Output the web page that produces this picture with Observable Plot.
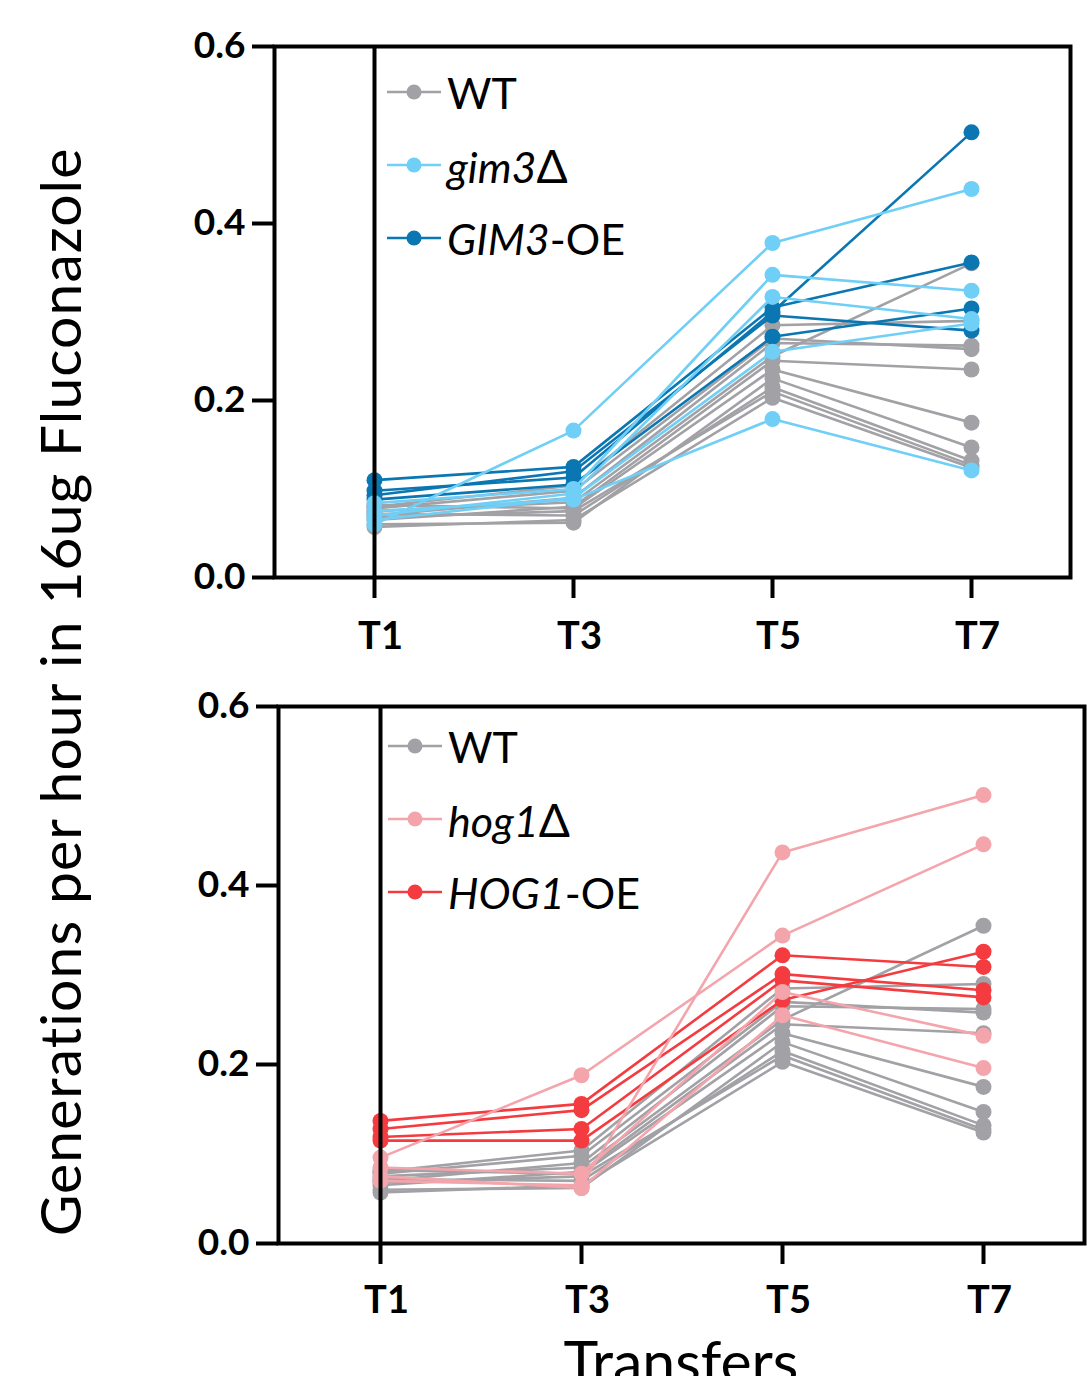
<!DOCTYPE html>
<html>
<head>
<meta charset="utf-8">
<script src="https://cdn.jsdelivr.net/npm/d3@7"></script>
<script src="https://cdn.jsdelivr.net/npm/@observablehq/plot@0.6"></script>
<style>
  html, body { margin: 0; padding: 0; background: #fff; overflow: hidden; }
  #page { position: relative; width: 1087px; height: 1376px; overflow: hidden; font-family: Lato, "Open Sans", sans-serif; }
  .panel { position: absolute; left: 0; }
  .legend { position: absolute; font-family: Lato, sans-serif; font-size: 43px; color: #000; }
  .legend .row { position: absolute; left: 0; height: 50px; display: flex; align-items: center; white-space: nowrap; }
  .legend svg { margin-right: 6px; overflow: visible; }
  .legend .delta { font-size: 46px; }
  #ylabel { position: absolute; left: 59px; top: 692px; transform: translate(-50%, -50%) rotate(-90deg);
            font-size: 57px; letter-spacing: 1.1px; line-height: 1.2; white-space: nowrap; font-family: Lato, sans-serif; }
  #xlabel { position: absolute; left: 681px; top: 1326px; transform: translateX(-50%);
            font-size: 59px; line-height: 1.2; white-space: nowrap; font-family: Lato, sans-serif; }
</style>
</head>
<body>
<div id="page">
  <div id="top" class="panel" style="top:0px"></div>
  <div id="bottom" class="panel" style="top:660px"></div>
  <div id="ylabel">Generations per hour in 16ug Fluconazole</div>
  <div id="xlabel">Transfers</div>
</div>
<script>
// ---- data ----
const transfers = ["T1", "T3", "T5", "T7"];
const yTicks = [0, 0.2, 0.4, 0.6];

// each row: values at T1, T3, T5, T7
const wt = [
  [0.075, 0.085, 0.250, 0.355],
  [0.080, 0.104, 0.285, 0.290],
  [0.070, 0.090, 0.265, 0.262],
  [0.078, 0.098, 0.270, 0.258],
  [0.065, 0.080, 0.245, 0.235],
  [0.082, 0.078, 0.235, 0.175],
  [0.060, 0.062, 0.225, 0.147],
  [0.072, 0.070, 0.215, 0.132],
  [0.068, 0.075, 0.210, 0.127],
  [0.057, 0.065, 0.203, 0.124]
];
const gim3Del = [
  [0.060, 0.166, 0.378, 0.439],
  [0.084, 0.100, 0.342, 0.324],
  [0.070, 0.095, 0.317, 0.292],
  [0.065, 0.090, 0.255, 0.287],
  [0.075, 0.088, 0.179, 0.121]
];
const gim3OE = [
  [0.098, 0.113, 0.300, 0.503],
  [0.110, 0.125, 0.305, 0.356],
  [0.093, 0.120, 0.296, 0.279],
  [0.088, 0.105, 0.272, 0.304]
];
const hog1Del = [
  [0.096, 0.188, 0.344, 0.446],
  [0.070, 0.065, 0.437, 0.501],
  [0.085, 0.078, 0.281, 0.232],
  [0.075, 0.062, 0.255, 0.196]
];
const hog1OE = [
  [0.137, 0.156, 0.322, 0.309],
  [0.128, 0.149, 0.301, 0.283],
  [0.119, 0.128, 0.294, 0.275],
  [0.115, 0.115, 0.272, 0.326]
];

const colors = {
  wt: "#a1a1a6",
  gim3Del: "#6fcff6",
  gim3OE: "#0a76b2",
  hog1Del: "#f4a5ac",
  hog1OE: "#f43c40"
};

function toRows(series, group) {
  return series.flatMap((vals, i) =>
    vals.map((v, j) => ({ t: transfers[j], v, id: group + i, group })));
}

function groupMarks(rows, color) {
  return [
    Plot.line(rows, { x: "t", y: "v", z: "id", stroke: color, strokeWidth: 2.6 }),
    Plot.dot(rows, { x: "t", y: "v", fill: color, r: 8 })
  ];
}

function panel(groups, opts) {
  return Plot.plot({
    width: 1087,
    height: opts.height,
    marginLeft: opts.marginLeft,
    marginRight: opts.marginRight,
    marginTop: opts.marginTop,
    marginBottom: opts.marginBottom,
    style: { fontFamily: "Lato, sans-serif", color: "#000", background: "#fff" },
    x: { type: "point", domain: transfers, padding: 0.5 },
    y: { domain: [0, 0.6] },
    marks: [
      ...groups.flatMap(g => groupMarks(toRows(g.data, g.name), g.color)),
      Plot.ruleX(["T1"], { stroke: "#000", strokeWidth: 4 }),
      Plot.frame({ stroke: "#000", strokeWidth: 4 }),
      Plot.axisY({ ticks: yTicks, tickFormat: d3.format(".1f"), tickSize: 22, tickPadding: 7,
                   fontSize: 37, fontWeight: "bold", strokeWidth: 4, label: null }),
      // tick marks
      Plot.axisX({ tickSize: 21, tickFormat: () => "", strokeWidth: 4, label: null }),
      // tick labels (slightly right of the ticks, as in the original)
      Plot.axisX({ tickSize: 0, tickPadding: 21 + opts.xPad, fontSize: 38, fontWeight: "bold",
                   label: null, dx: 6 })
    ]
  });
}

const topPlot = panel(
  [ { name: "wt", data: wt, color: colors.wt },
    { name: "gim3OE", data: gim3OE, color: colors.gim3OE },
    { name: "gim3Del", data: gim3Del, color: colors.gim3Del } ],
  { height: 680, marginLeft: 274, marginRight: 17, marginTop: 46, marginBottom: 103, xPad: 24 });
document.getElementById("top").appendChild(topPlot);

const bottomPlot = panel(
  [ { name: "wt", data: wt, color: colors.wt },
    { name: "hog1OE", data: hog1OE, color: colors.hog1OE },
    { name: "hog1Del", data: hog1Del, color: colors.hog1Del } ],
  { height: 716, marginLeft: 278, marginRight: 3, marginTop: 46, marginBottom: 133, xPad: 22 });
document.getElementById("bottom").appendChild(bottomPlot);

// ---- legends (HTML overlay inside the plot frames) ----
function legend(items, left, top, gap) {
  const div = document.createElement("div");
  div.className = "legend";
  div.style.left = left + "px";
  div.style.top = top + "px";
  items.forEach((it, i) => {
    const row = document.createElement("div");
    row.className = "row";
    row.style.top = (i * gap) + "px";
    row.innerHTML =
      `<svg width="54" height="20"><line x1="0" x2="54" y1="10" y2="10" stroke="${it.color}" stroke-width="2.6"/>` +
      `<circle cx="27" cy="10" r="7.5" fill="${it.color}"/></svg><span>${it.label}</span>`;
    div.appendChild(row);
  });
  document.getElementById("page").appendChild(div);
}
legend([
  { label: "WT", color: colors.wt },
  { label: "<i>gim3</i><span class='delta'>Δ</span>", color: colors.gim3Del },
  { label: "<i>GIM3</i>-OE", color: colors.gim3OE }
], 387, 67, 73);
legend([
  { label: "WT", color: colors.wt },
  { label: "<i>hog1</i><span class='delta'>Δ</span>", color: colors.hog1Del },
  { label: "<i>HOG1</i>-OE", color: colors.hog1OE }
], 388, 721, 73);
</script>
</body>
</html>
